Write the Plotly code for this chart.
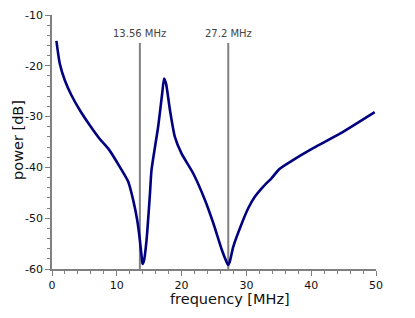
import plotly.graph_objects as go

freq = [0.68, 1.19, 1.96, 3.0, 4.28, 5.83, 7.37, 8.8, 10.46, 11.75, 12.52, 13.14, 13.56,
        13.91, 13.97, 14.2, 14.59, 15.1, 15.36, 16.38, 17.0, 17.3, 17.6, 18.2, 18.96,
        20.0, 21.8, 23.6, 24.9, 26.2, 26.9, 27.15, 27.4, 27.98, 29.3, 30.3, 31.3,
        32.6, 33.9, 35.1, 37.0, 40.3, 44.5, 49.8]
power = [-15.1, -19.5, -22.8, -25.8, -28.7, -31.7, -34.4, -36.5, -39.9, -42.8, -46.4,
         -50.3, -54.3, -58.5, -59.0, -58.3, -54.3, -45.5, -40.5, -32.0, -25.5, -22.5,
         -23.5, -28.7, -34.0, -37.3, -41.2, -46.4, -51.0, -56.2, -58.5, -59.2, -58.7,
         -55.6, -51.0, -48.0, -45.8, -43.8, -42.1, -40.3, -38.7, -36.2, -33.3, -29.1]

markers = [13.56, 27.2]
marker_labels = ["13.56 MHz", "27.2 MHz"]

x_ticks = [0, 10, 20, 30, 40, 50]
y_ticks = [-60, -50, -40, -30, -20, -10]
y_ticktext = ["-60", "-50", "-40", "-30", "-20", "-10"]

fig = go.Figure()
fig.add_trace(go.Scatter(x=freq, y=power, mode="lines",
                         line=dict(color="#000080", width=2.6, shape="spline", smoothing=0.6),
                         showlegend=False, hoverinfo="skip"))

for m, lab in zip(markers, marker_labels):
    fig.add_shape(type="line", x0=m, x1=m, y0=-60, y1=-15.5, xref="x", yref="y",
                  line=dict(color="#808080", width=2), layer="below")
    fig.add_annotation(x=m, y=-15.5, text=lab, showarrow=False, yanchor="bottom", yshift=2,
                       font=dict(family="DejaVu Sans", size=10, color="#444444"))

axis_common = dict(showgrid=False, zeroline=False, showline=True, linecolor="#808080",
                   linewidth=1.5, ticks="outside", ticklen=5, tickcolor="#808080", tickwidth=1,
                   automargin=False,
                   tickfont=dict(family="DejaVu Sans", size=11, color="#111111"))

fig.update_xaxes(range=[0, 50], tickvals=x_ticks,
                 minor=dict(dtick=2, tick0=0, ticks="outside", ticklen=3, tickcolor="#808080"),
                 **axis_common)
fig.update_yaxes(range=[-60, -10], tickvals=y_ticks, ticktext=y_ticktext,
                 minor=dict(dtick=2, tick0=-60, ticks="outside", ticklen=3, tickcolor="#808080"),
                 **axis_common)

fig.add_annotation(text="frequency [MHz]", xref="paper", yref="paper", x=0.549, y=-0.118,
                   yanchor="middle", xanchor="center", showarrow=False,
                   font=dict(family="DejaVu Sans", size=14.5, color="#111111"))
fig.add_annotation(text="power [dB]", xref="paper", yref="paper", x=-0.105, y=0.508,
                   textangle=-90, xanchor="center", yanchor="middle", showarrow=False,
                   font=dict(family="DejaVu Sans", size=14.5, color="#111111"))

fig.update_layout(width=399, height=302, margin=dict(l=44, r=31, t=7, b=41),
                  plot_bgcolor="white", paper_bgcolor="white")

fig.write_html("out.html")
